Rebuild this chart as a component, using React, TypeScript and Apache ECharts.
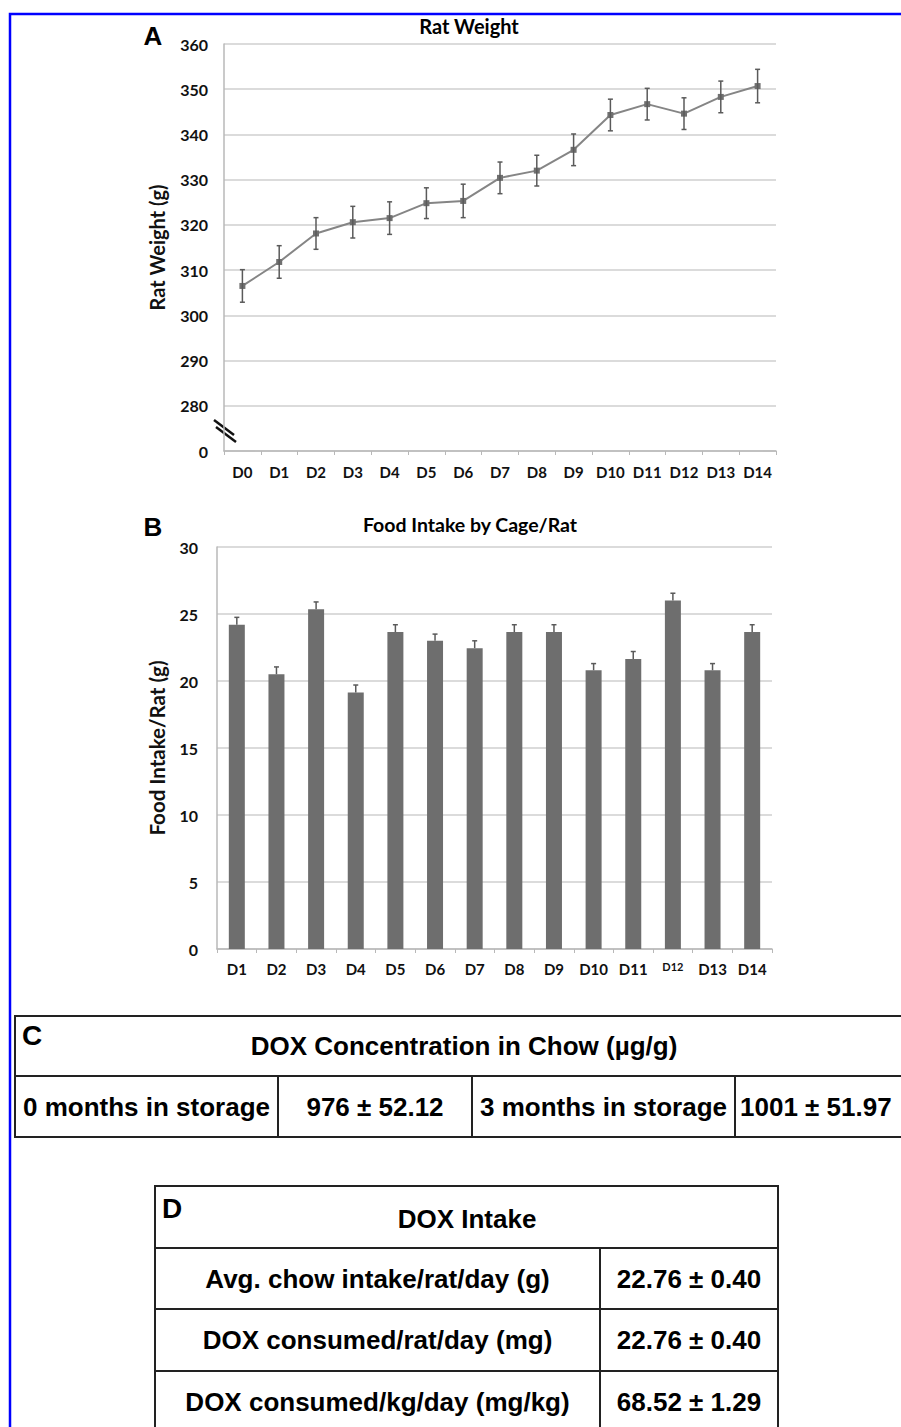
import React, { useEffect, useRef } from "react";
import * as echarts from "echarts";

// ---------- Panel A data ----------
const daysA = ["D0", "D1", "D2", "D3", "D4", "D5", "D6", "D7", "D8", "D9", "D10", "D11", "D12", "D13", "D14"];
const weightMean = [306.5, 311.8, 318.1, 320.6, 321.5, 324.8, 325.3, 330.4, 332.0, 336.6, 344.3, 346.7, 344.6, 348.3, 350.7];
const weightErr = [3.6, 3.6, 3.5, 3.5, 3.6, 3.4, 3.7, 3.5, 3.4, 3.5, 3.5, 3.5, 3.5, 3.5, 3.7];
const weightTicksMin = 270; // shown as "0" (axis break)
const weightTicksMax = 360;

// ---------- Panel B data ----------
const daysB = ["D1", "D2", "D3", "D4", "D5", "D6", "D7", "D8", "D9", "D10", "D11", "D12", "D13", "D14"];
const foodMean = [24.2, 20.5, 25.35, 19.15, 23.65, 23.0, 22.45, 23.65, 23.65, 20.8, 21.65, 26.0, 20.8, 23.65];
const foodErr = [0.55, 0.55, 0.55, 0.55, 0.55, 0.5, 0.55, 0.55, 0.55, 0.5, 0.55, 0.55, 0.5, 0.55];

// ---------- Tables ----------
const tableCTitle = "DOX Concentration in Chow (µg/g)";
const tableCCells = ["0 months in storage", "976 ± 52.12", "3 months in storage", "1001 ± 51.97"];
const tableDTitle = "DOX Intake";
const tableDLabels = ["Avg. chow intake/rat/day (g)", "DOX consumed/rat/day (mg)", "DOX consumed/kg/day (mg/kg)"];
const tableDValues = ["22.76 ± 0.40", "22.76 ± 0.40", "68.52 ± 1.29"];

const CHART_FONT = "Lato";
const TABLE_FONT = "'Liberation Sans', Arial, sans-serif";

function txt(text: string, x: number, y: number, size: number, opts: any = {}) {
  return {
    type: "text",
    x,
    y,
    rotation: opts.rotation || 0,
    style: {
      text,
      fill: opts.fill || "#000",
      fontSize: size,
      fontWeight: opts.weight || "bold",
      fontFamily: opts.family || TABLE_FONT,
      align: opts.align || "center",
      verticalAlign: opts.valign || "middle",
    },
  };
}
function ln(x1: number, y1: number, x2: number, y2: number, w = 2, c = "#222") {
  return { type: "line", shape: { x1, y1, x2, y2 }, style: { stroke: c, lineWidth: w } };
}

export default function App() {
  const ref = useRef<HTMLDivElement>(null);
  useEffect(() => {
    if (!ref.current) return;
    const chart = echarts.init(ref.current, undefined, { renderer: "svg" });

    const errA = weightMean.map((m, i) => [i, m - weightErr[i], m + weightErr[i]]);
    const errB = foodMean.map((m, i) => [i, m, m + foodErr[i]]);

    const errRender = (both: boolean) => (params: any, api: any) => {
      const i = api.value(0);
      const lo = api.coord([i, api.value(1)]);
      const hi = api.coord([i, api.value(2)]);
      const cap = 2.5;
      const st = { stroke: "#5a5a5a", lineWidth: 1.5 };
      const children: any[] = [
        { type: "line", shape: { x1: lo[0], y1: lo[1], x2: hi[0], y2: hi[1] }, style: st },
        { type: "line", shape: { x1: hi[0] - cap, y1: hi[1], x2: hi[0] + cap, y2: hi[1] }, style: st },
      ];
      if (both) {
        children.push({ type: "line", shape: { x1: lo[0] - cap, y1: lo[1], x2: lo[0] + cap, y2: lo[1] }, style: st });
      }
      return { type: "group", children };
    };

    const axisLabelStyle = { color: "#111", fontFamily: CHART_FONT, fontWeight: "bold" as const };
    const gridLine = { lineStyle: { color: "#cfcfcf", width: 1.5 } };
    const axisLine = { show: true, lineStyle: { color: "#b8b8b8", width: 1.5 } };

    const graphics: any[] = [];
    // blue frame
    graphics.push({ type: "rect", shape: { x: 10, y: 14, width: 1000, height: 1500 }, style: { fill: "none", stroke: "#0000ff", lineWidth: 2.5 } });
    // panel labels and titles
    graphics.push(txt("A", 153, 36, 26, { family: TABLE_FONT }));
    graphics.push(txt("Rat Weight", 469, 26, 20, { family: CHART_FONT }));
    graphics.push(txt("B", 153, 527, 26, { family: TABLE_FONT }));
    graphics.push(txt("Food Intake by Cage/Rat", 470, 524, 19.5, { family: CHART_FONT }));
    // axis break marks
    graphics.push(ln(214, 420, 234, 435, 2.5, "#111"));
    graphics.push(ln(216, 427, 236, 442, 2.5, "#111"));

    // Table C
    const cT = 1016, cM = 1076, cB = 1137, cL = 15, cR = 905;
    graphics.push({ type: "rect", shape: { x: cL, y: cT, width: cR - cL, height: cB - cT }, style: { fill: "none", stroke: "#222", lineWidth: 2 } });
    graphics.push(ln(cL, cM, cR, cM));
    const cCols = [cL, 278, 472, 735, cR];
    [278, 472, 735].forEach((x) => graphics.push(ln(x, cM, x, cB)));
    graphics.push(txt("C", 22, 1035, 28, { align: "left" }));
    graphics.push(txt(tableCTitle, 464, 1046, 26));
    tableCCells.forEach((t, i) => {
      const cx = i === 3 ? 740 : (cCols[i] + cCols[i + 1]) / 2;
      graphics.push(txt(t, cx, 1107, 26, { align: i === 3 ? "left" : "center" }));
    });

    // Table D
    const dL = 155, dR = 778, dMid = 600;
    const dRows = [1186, 1248, 1309, 1371, 1433];
    graphics.push({ type: "rect", shape: { x: dL, y: dRows[0], width: dR - dL, height: dRows[4] - dRows[0] }, style: { fill: "none", stroke: "#222", lineWidth: 2 } });
    [1248, 1309, 1371].forEach((y) => graphics.push(ln(dL, y, dR, y)));
    graphics.push(ln(dMid, dRows[1], dMid, dRows[4]));
    graphics.push(txt("D", 162, 1208, 28, { align: "left" }));
    graphics.push(txt(tableDTitle, 467, 1219, 26));
    tableDLabels.forEach((t, i) => {
      const cy = (dRows[i + 1] + dRows[i + 2]) / 2;
      graphics.push(txt(t, (dL + dMid) / 2, cy, 26));
      graphics.push(txt(tableDValues[i], (dMid + dR) / 2, cy, 26));
    });

    chart.setOption({
      animation: false,
      backgroundColor: "#ffffff",
      grid: [
        { left: 224, top: 44, width: 552, height: 407, containLabel: false },
        { left: 217, top: 547, width: 555, height: 402, containLabel: false },
      ],
      xAxis: [
        {
          type: "category",
          gridIndex: 0,
          data: daysA,
          boundaryGap: true,
          axisLine,
          axisTick: { show: true, alignWithLabel: false, length: 4, lineStyle: { color: "#b8b8b8" } },
          axisLabel: { ...axisLabelStyle, fontSize: 15, margin: 13, interval: 0 },
        },
        {
          type: "category",
          gridIndex: 1,
          data: daysB,
          boundaryGap: true,
          axisLine,
          axisTick: { show: true, alignWithLabel: false, length: 4, lineStyle: { color: "#b8b8b8" } },
          axisLabel: {
            ...axisLabelStyle,
            fontSize: 15,
            margin: 12,
            interval: 0,
            formatter: (v: string) => (v === "D12" ? "{s|" + v + "}" : v),
            rich: { s: { fontSize: 11, fontFamily: CHART_FONT, fontWeight: "bold", color: "#111" } },
          },
        },
      ],
      yAxis: [
        {
          type: "value",
          gridIndex: 0,
          min: weightTicksMin,
          max: weightTicksMax,
          interval: 10,
          axisLine,
          axisTick: { show: false },
          splitLine: gridLine,
          axisLabel: {
            ...axisLabelStyle,
            fontSize: 16,
            margin: 16,
            formatter: (v: number) => (v === weightTicksMin ? "0" : String(v)),
          },
          name: "Rat Weight (g)",
          nameLocation: "middle",
          nameGap: 57,
          nameTextStyle: { ...axisLabelStyle, fontSize: 20 },
        },
        {
          type: "value",
          gridIndex: 1,
          min: 0,
          max: 30,
          interval: 5,
          axisLine,
          axisTick: { show: false },
          splitLine: gridLine,
          axisLabel: { ...axisLabelStyle, fontSize: 16, margin: 19 },
          name: "Food Intake/Rat (g)",
          nameLocation: "middle",
          nameGap: 50,
          nameTextStyle: { ...axisLabelStyle, fontSize: 20.5 },
        },
      ],
      series: [
        {
          type: "line",
          xAxisIndex: 0,
          yAxisIndex: 0,
          data: weightMean,
          symbol: "rect",
          symbolSize: 6,
          lineStyle: { color: "#858585", width: 2 },
          itemStyle: { color: "#707070" },
          z: 3,
        },
        {
          type: "custom",
          xAxisIndex: 0,
          yAxisIndex: 0,
          data: errA,
          renderItem: errRender(true),
          z: 4,
        },
        {
          type: "bar",
          xAxisIndex: 1,
          yAxisIndex: 1,
          data: foodMean,
          barWidth: 16,
          itemStyle: { color: "#6e6e6e" },
          z: 3,
        },
        {
          type: "custom",
          xAxisIndex: 1,
          yAxisIndex: 1,
          data: errB,
          renderItem: errRender(false),
          z: 4,
        },
      ],
      graphic: graphics,
    });

    return () => chart.dispose();
  }, []);

  return <div ref={ref} style={{ position: "absolute", left: 0, top: 0, width: 901, height: 1427, background: "#fff" }} />;
}
